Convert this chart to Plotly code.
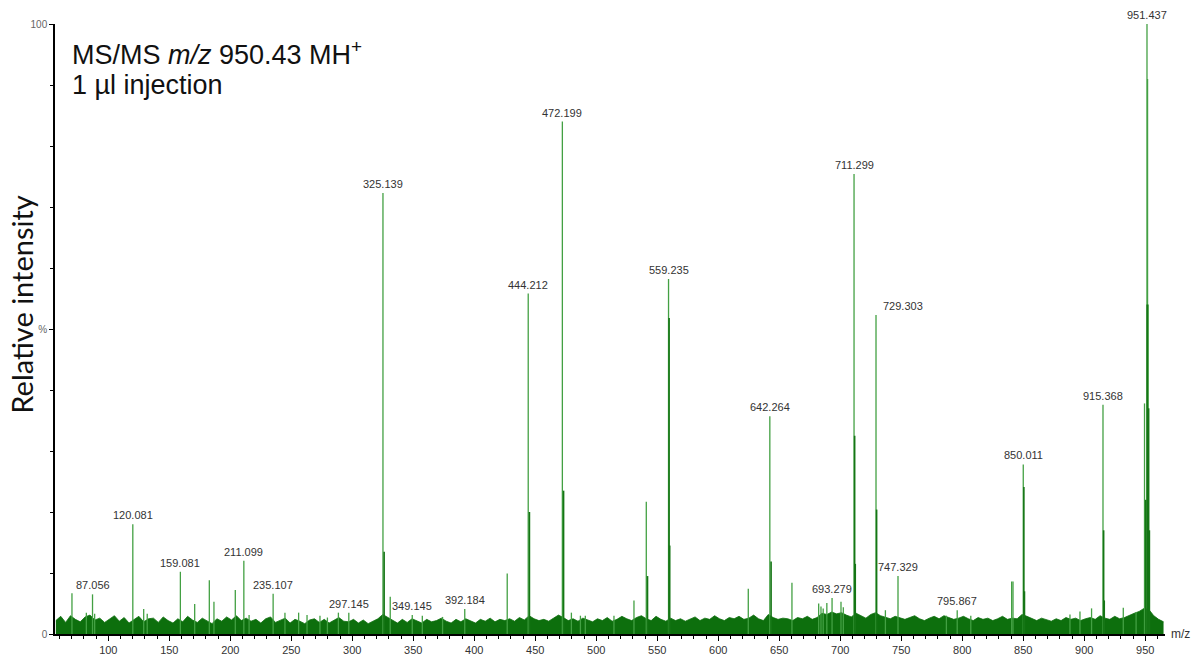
import plotly.graph_objects as go

# ---------------- data ----------------
# main stick peaks: m/z and relative intensity (%)
peak_mz = [70.2, 82.0, 87.056, 88.8, 120.081, 129.0, 131.9, 159.081, 170.8, 182.8,
           186.6, 204.1, 211.099, 215.4, 235.107, 244.8, 256.0, 262.9, 273.5, 279.6,
           288.6, 297.145, 325.139, 331.1, 349.145, 357.4, 374.0, 392.184, 427.0, 444.212,
           472.199, 479.6, 487.0, 491.0, 514.5, 530.9, 541.0, 559.235, 624.6, 642.264,
           660.4, 682.3, 684.2, 686.0, 689.0, 693.279, 700.6, 702.5, 711.299, 729.303,
           737.0, 747.329, 787.0, 795.867, 807.0, 840.5, 841.6, 850.011, 888.3, 896.5,
           906.0, 915.368, 932.0, 942.5, 949.4, 951.437, 951.9, 952.44]
peak_int = [6.7, 3.5, 6.5, 3.3, 18.0, 4.1, 3.3, 10.2, 4.9, 8.8,
            5.3, 7.2, 12.0, 3.1, 6.6, 3.5, 3.5, 3.1, 3.0, 2.7,
            3.5, 3.5, 72.3, 6.1, 3.1, 3.0, 2.8, 4.1, 9.9, 55.8,
            84.0, 3.5, 3.0, 3.0, 3.0, 5.5, 21.7, 58.2, 7.4, 35.7,
            8.4, 5.0, 4.5, 4.2, 5.1, 5.9, 5.3, 4.4, 75.4, 52.3,
            3.9, 9.5, 3.0, 3.9, 3.0, 8.6, 8.6, 27.8, 3.2, 3.7,
            4.2, 37.6, 4.3, 3.6, 37.8, 100.0, 91.0, 54.0]

# darker neighbouring data points drawn over the main peaks
shoulder_mz = [326.1, 445.2, 473.2, 542.0, 559.7, 560.2, 643.3, 711.8, 712.3, 729.8,
               850.5, 851.0, 915.9, 916.4, 950.4, 951.6, 952.8, 953.4]
shoulder_int = [13.5, 20.0, 23.5, 9.5, 51.8, 14.5, 11.9, 32.5, 11.5, 20.4,
                24.1, 7.0, 17.0, 5.5, 22.0, 54.0, 37.0, 17.0]

# labelled peaks
label_mz = [87.056, 120.081, 159.081, 211.099, 235.107, 297.145, 325.139, 349.145,
            392.184, 444.212, 472.199, 559.235, 642.264, 693.279, 711.299, 729.303,
            747.329, 795.867, 850.011, 915.368, 951.437]
label_int = [6.5, 18.0, 10.2, 12.0, 6.6, 3.5, 72.3, 3.1,
             4.1, 55.8, 84.0, 58.2, 35.7, 5.9, 75.4, 52.3,
             9.5, 3.9, 27.8, 37.6, 100.0]
label_text = ["87.056", "120.081", "159.081", "211.099", "235.107", "297.145", "325.139",
              "349.145", "392.184", "444.212", "472.199", "559.235", "642.264", "693.279",
              "711.299", "729.303", "747.329", "795.867", "850.011", "915.368", "951.437"]

# baseline noise envelope, one value every 4 m/z starting at 57
noise_start, noise_step = 57, 4
noise_int = [2.2, 2.9, 1.9, 3.0, 2.4, 2.0, 2.8, 3.1, 2.3, 2.6, 1.9, 2.5, 3.0, 2.1, 2.7, 1.8, 2.4, 2.9, 2.0, 2.5,
             2.6, 1.9, 2.8, 2.2, 1.8, 2.5, 2.0, 2.9, 2.3, 1.9, 2.6, 2.2, 1.7, 2.5, 2.1, 2.8, 2.3, 3.0, 2.2, 2.6,
             2.1, 2.4, 1.8, 2.5, 2.8, 1.9, 2.2, 2.6, 1.8, 2.4, 2.1, 1.7, 2.3, 2.5, 1.9, 2.4, 1.8, 2.2, 2.7, 2.1,
             2.0, 2.4, 1.8, 2.3, 1.7, 2.1, 2.5, 3.2, 2.7, 2.2, 1.8, 2.4, 1.9, 2.5, 2.1, 1.8, 2.4, 2.0, 2.2, 2.6,
             2.1, 1.8, 2.4, 2.0, 2.5, 2.2, 1.8, 2.4, 2.1, 2.6, 2.0, 2.4, 2.2, 2.5, 2.1, 2.7, 2.3, 3.0, 2.5, 2.2,
             2.4, 2.1, 2.6, 3.1, 2.7, 2.2, 2.5, 2.1, 2.6, 2.3, 2.0, 2.5, 2.2, 2.7, 2.1, 2.4, 2.9, 2.5, 2.2, 2.7,
             3.0, 2.5, 2.2, 2.9, 2.4, 2.1, 2.6, 2.2, 2.5, 2.1, 2.4, 2.8, 2.2, 2.6, 2.4, 3.0, 2.5, 2.2, 2.7, 2.5,
             2.9, 2.4, 2.6, 3.1, 2.5, 2.2, 3.2, 2.7, 2.4, 2.6, 2.5, 2.2, 2.7, 2.5, 2.9, 2.4, 2.7, 3.4, 3.2, 3.6,
             3.3, 3.5, 3.1, 2.8, 3.4, 3.0, 2.6, 3.2, 3.5, 3.0, 2.7, 2.5, 2.9, 2.6, 2.4, 2.7, 3.0, 2.5, 2.2, 2.6,
             2.9, 2.5, 3.0, 2.7, 2.4, 2.6, 2.9, 2.5, 2.2, 2.7, 2.4, 2.6, 2.2, 2.5, 2.9, 2.4, 2.6, 2.5, 3.2, 2.9,
             2.5, 2.2, 2.6, 2.4, 2.1, 2.5, 2.2, 2.7, 2.4, 2.6, 2.2, 2.5, 2.7, 2.4, 3.0, 2.6, 2.4, 2.9, 2.5, 2.7,
             3.1, 3.4, 3.7, 4.2, 4.0, 3.0, 2.4, 2.0]
noise_mz = [noise_start + noise_step * i for i in range(len(noise_int))]

x_tick_vals = [100, 150, 200, 250, 300, 350, 400, 450, 500, 550, 600, 650, 700, 750, 800, 850, 900, 950]
y_tick_vals = [0, 50, 100]
y_tick_text = ["0", "%", "100"]


def sticks(mz, inten):
    xs, ys = [], []
    for m, h in zip(mz, inten):
        xs += [m, m, None]
        ys += [0, h, None]
    return xs, ys


fig = go.Figure()

fig.add_trace(go.Scatter(x=noise_mz, y=noise_int, mode="lines", fill="tozeroy",
                         line=dict(color="#0d6f0d", width=0.8), fillcolor="#0d6f0d",
                         hoverinfo="skip", showlegend=False))

sx, sy = sticks(peak_mz, peak_int)
fig.add_trace(go.Scatter(x=sx, y=sy, mode="lines", line=dict(color="#43a043", width=1.3),
                         showlegend=False, hoverinfo="skip"))
dx, dy = sticks(shoulder_mz, shoulder_int)
fig.add_trace(go.Scatter(x=dx, y=dy, mode="lines", line=dict(color="#157515", width=1.6),
                         showlegend=False, hoverinfo="skip"))

shift = {"729.303": 27}
for m, h, t in zip(label_mz, label_int, label_text):
    fig.add_annotation(x=m, y=h, text=t, showarrow=False, xanchor="center", yanchor="bottom",
                       yshift=1, xshift=shift.get(t, 0),
                       font=dict(family="Liberation Sans, Arial", size=11, color="#333333"))

fig.add_annotation(xref="paper", yref="paper", x=0.0135, y=1.0, yshift=-10, xanchor="left",
                   yanchor="top", showarrow=False,
                   text="MS/MS <i>m/z</i> 950.43 MH<sup>+</sup>",
                   font=dict(family="Liberation Sans, Arial", size=27, color="#111111"))
fig.add_annotation(xref="paper", yref="paper", x=0.0135, y=1.0, yshift=-44, xanchor="left",
                   yanchor="top", showarrow=False, text="1 µl injection",
                   font=dict(family="Liberation Sans, Arial", size=27, color="#111111"))
fig.add_annotation(xref="paper", yref="paper", x=-0.0297, y=0.54, textangle=-90,
                   xanchor="center", yanchor="middle",
                   showarrow=False, text="Relative intensity",
                   font=dict(family="Lato, Carlito, sans-serif", size=29, color="#111111"))
fig.add_annotation(xref="paper", yref="paper", x=1.0, y=0.0, xshift=4, xanchor="left",
                   yanchor="middle", showarrow=False, text="m/z",
                   font=dict(family="Liberation Sans, Arial", size=12, color="#333333"))

fig.update_layout(
    width=1193, height=668,
    margin=dict(l=55, r=28, t=24, b=21),
    paper_bgcolor="white", plot_bgcolor="white",
    showlegend=False,
    xaxis=dict(range=[56.3, 966.2], showline=True, linecolor="black", linewidth=1.5,
               ticks="outside", ticklen=5, tickwidth=1, tickcolor="black",
               tickvals=x_tick_vals, showgrid=False, zeroline=False,
               minor=dict(dtick=10, ticklen=3, ticks="outside", tickcolor="black", showgrid=False),
               tickfont=dict(family="Liberation Sans, Arial", size=11, color="#333333")),
    yaxis=dict(range=[0, 100], showline=True, linecolor="black", linewidth=1.5,
               ticks="outside", ticklen=4, tickcolor="black",
               tickvals=y_tick_vals, ticktext=y_tick_text, showgrid=False, zeroline=False,
               minor=dict(dtick=10, ticklen=3, ticks="outside", tickcolor="black", showgrid=False),
               tickfont=dict(family="Liberation Sans, Arial", size=10, color="#666666")),
)

fig.write_html("out.html")
